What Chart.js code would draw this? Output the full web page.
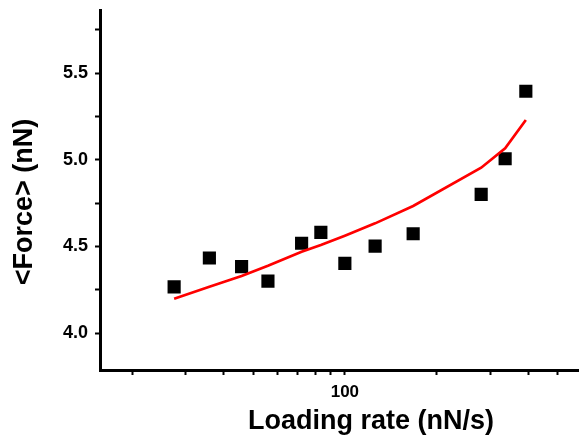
<!DOCTYPE html>
<html>
<head>
<meta charset="utf-8">
<script src="https://cdn.jsdelivr.net/npm/chart.js@4"></script>
<style>
  html, body { margin: 0; background: #fff; overflow: hidden; }
  /* chart.js keeps a 9px right margin from the y tick padding, so the
     canvas is made that much wider and clipped by the window */
  #wrap { width: 588px; height: 438px; position: relative; }
</style>
</head>
<body>
<div id="wrap"><canvas id="force-chart"></canvas></div>
<script>
// loading rate (nN/s) vs mean rupture force (nN)
const rates  = [27.5, 35.9, 45.8, 55.9, 72.1, 83.4, 100, 125.7, 167.6, 280.3, 336, 392.9];
const forces = [4.267, 4.433, 4.383, 4.300, 4.518, 4.581, 4.402, 4.502, 4.573, 4.800, 5.006, 5.395];
const fitForces = [4.198, 4.267, 4.329, 4.388, 4.469, 4.508, 4.562, 4.633, 4.733, 4.954, 5.066, 5.229];

const xTicks = [20, 30, 40, 50, 60, 70, 80, 90, 100, 200, 300, 400, 500];
const xLabels = [100];
const yTicks = [4.0, 4.25, 4.5, 4.75, 5.0, 5.25, 5.5, 5.75];
const yLabels = [4.0, 4.5, 5.0, 5.5];

const xTitle = 'Loading rate (nN/s)';
const yTitle = '<Force> (nN)';

const FONT = '"Liberation Sans", Arial, sans-serif';

// axis titles drawn by hand, the original ones are not centred on the axes
const axisTitles = {
    id: 'axisTitles',
    afterDraw(chart) {
        const ctx = chart.ctx;
        ctx.save();
        ctx.fillStyle = '#000';
        ctx.font = 'bold 27px ' + FONT;
        ctx.textAlign = 'center';
        ctx.textBaseline = 'alphabetic';
        ctx.fillText(xTitle, 371, 429);

        ctx.translate(32, 202);
        ctx.rotate(-Math.PI / 2);
        ctx.fillText(yTitle, 0, 0);
        ctx.restore();
    }
};

function noPadding(s) {
    s.paddingLeft = 0;
    s.paddingRight = 0;
    s.paddingTop = 0;
    s.paddingBottom = 0;
}

const points = rates.map((r, i) => ({ x: r, y: forces[i] }));
const fitPoints = rates.map((r, i) => ({ x: r, y: fitForces[i] }));

new Chart(document.getElementById('force-chart'), {
    type: 'scatter',
    data: {
        datasets: [
            {
                label: 'fit',
                type: 'line',
                data: fitPoints,
                borderColor: '#ff0000',
                borderWidth: 2.7,
                pointRadius: 0,
                tension: 0,
                fill: false
            },
            {
                label: 'data',
                data: points,
                pointStyle: 'rect',
                pointRadius: 9.3,
                pointBorderWidth: 0,
                backgroundColor: '#000',
                borderColor: '#000'
            }
        ]
    },
    options: {
        responsive: true,
        maintainAspectRatio: false,
        animation: false,
        layout: { padding: { top: 10, left: 0, right: 0, bottom: 0 } },
        plugins: { legend: { display: false }, tooltip: { enabled: false } },
        scales: {
            x: {
                type: 'logarithmic',
                min: 15.7,
                max: 586,
                afterBuildTicks: s => { s.ticks = xTicks.map(v => ({ value: v })); },
                afterFit: s => { s.height = 68; noPadding(s); },
                border: { display: true, color: '#000', width: 3 },
                grid: { drawOnChartArea: false, drawTicks: true, tickLength: 5, tickWidth: 2, tickColor: '#000' },
                ticks: {
                    autoSkip: false,
                    maxRotation: 0,
                    padding: 0,
                    color: '#000',
                    // tall line height pushes the label down instead of tick padding
                    font: { family: FONT, size: 17, weight: 'bold', lineHeight: 2.0 },
                    callback: v => xLabels.includes(v) ? String(v) : ''
                }
            },
            y: {
                min: 3.787,
                max: 5.864,
                afterBuildTicks: s => { s.ticks = yTicks.map(v => ({ value: v })); },
                afterFit: s => { s.width = 100; noPadding(s); },
                border: { display: true, color: '#000', width: 3 },
                grid: { drawOnChartArea: false, drawTicks: true, tickLength: 5, tickWidth: 2, tickColor: '#000' },
                ticks: {
                    autoSkip: false,
                    padding: 7,
                    color: '#000',
                    font: { family: FONT, size: 18, weight: 'bold' },
                    callback: v => yLabels.includes(v) ? v.toFixed(1) : ''
                }
            }
        }
    },
    plugins: [axisTitles]
});
</script>
</body>
</html>
